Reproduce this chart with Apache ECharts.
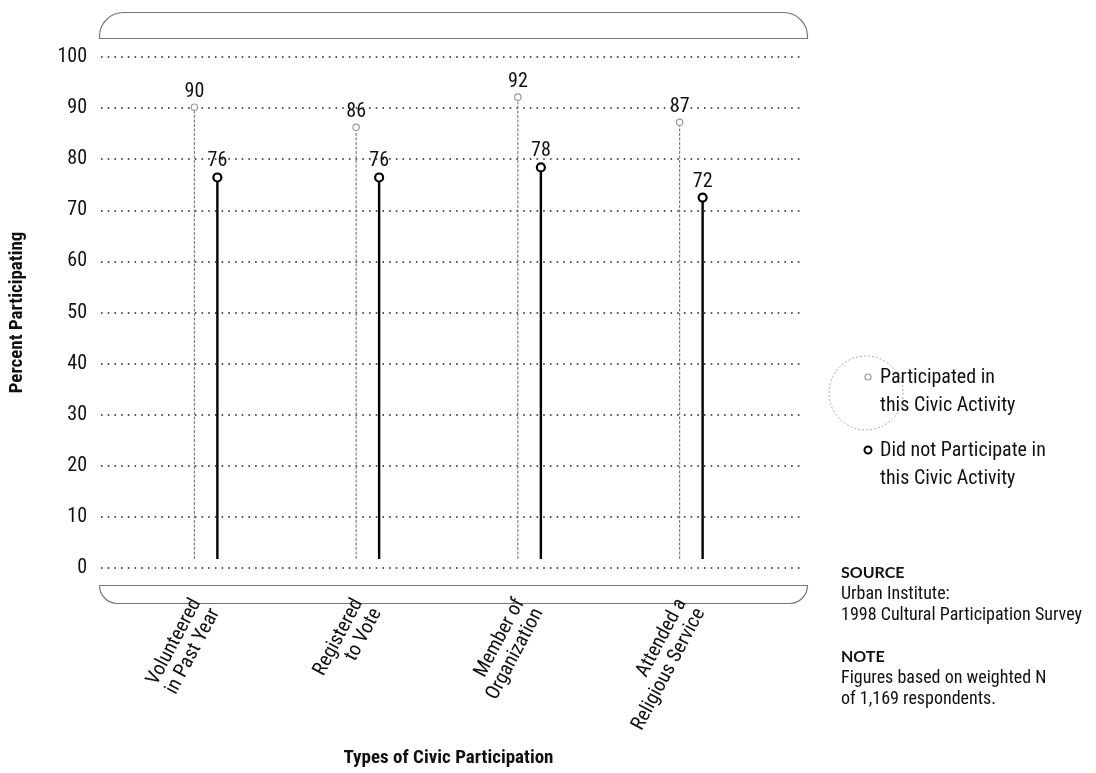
<!DOCTYPE html>
<html>
<head>
<meta charset="utf-8">
<script src="https://cdn.jsdelivr.net/npm/echarts@6/dist/echarts.min.js"></script>
<style>
html,body{margin:0;padding:0;background:#fff;}
#chart{width:1096px;height:773px;}
</style>
</head>
<body>
<div id="chart"></div>
<script>
// ---- data ----
const categories = ['Volunteered\nin Past Year', 'Registered\nto Vote', 'Member of\nOrganization', 'Attended a\nReligious Service'];
const participated = [90, 86, 92, 87];
const didNotParticipate = [76, 76, 78, 72];
const yTicks = [0, 10, 20, 30, 40, 50, 60, 70, 80, 90, 100];
const seriesNames = ['Participated in\nthis Civic Activity', 'Did not Participate in\nthis Civic Activity'];

const NARROW = "'Liberation Sans Narrow','Roboto Condensed','DejaVu Sans Condensed','Liberation Sans',sans-serif";

const chart = echarts.init(document.getElementById('chart'), null, {renderer: 'canvas'});

function makeRender(offset, opts) {
  return function (params, api) {
    const idx = api.value(0);
    const v = api.value(1);
    const top = api.coord([idx, v]);
    const base = api.coord([idx, 0]);
    const cx = top[0] + offset;
    return {
      type: 'group',
      children: [
        {type: 'line', shape: {x1: cx, y1: base[1], x2: cx, y2: top[1] + opts.r},
         style: {stroke: opts.stemColor, lineWidth: opts.stemWidth, lineDash: opts.dash}},
        {type: 'circle', shape: {cx: cx, cy: top[1], r: opts.r},
         style: {fill: '#fff', stroke: opts.dotColor, lineWidth: opts.dotWidth}},
        {type: 'text', style: {text: String(v), x: cx, y: top[1] - opts.r - 2,
          textAlign: 'center', textVerticalAlign: 'bottom',
          font: '20px ' + NARROW, fill: '#111'}}
      ]
    };
  };
}

const option = {
  backgroundColor: '#fff',
  animation: false,
  grid: [
    {left: 97, width: 706, top: 57, height: 511},
    {left: 125, width: 647, top: 57, height: 511}
  ],
  xAxis: [
    {gridIndex: 0, type: 'category', data: categories, show: false},
    {gridIndex: 1, type: 'category', data: categories,
     axisLine: {show: false}, axisTick: {show: false},
     axisLabel: {rotate: 62, margin: 46, fontFamily: NARROW, fontSize: 20, color: '#111', lineHeight: 21},
     name: 'Types of Civic Participation', nameLocation: 'middle', nameGap: 190,
     nameTextStyle: {fontFamily: NARROW, fontWeight: 'bold', fontSize: 19, color: '#111'}}
  ],
  yAxis: [
    {gridIndex: 0, type: 'value', min: yTicks[0], max: yTicks[yTicks.length - 1], interval: 10,
     axisLine: {show: false}, axisTick: {show: false},
     axisLabel: {margin: 14, fontFamily: NARROW, fontSize: 20, color: '#111'},
     splitLine: {show: true, lineStyle: {color: '#222', width: 1.6, type: [1.6, 5.1]}},
     name: 'Percent Participating', nameLocation: 'middle', nameRotate: 90, nameGap: 74,
     nameTextStyle: {fontFamily: NARROW, fontWeight: 'bold', fontSize: 19, color: '#111'}},
    {gridIndex: 1, type: 'value', min: yTicks[0], max: yTicks[yTicks.length - 1], interval: 10, show: false}
  ],
  series: [
    {name: seriesNames[0], type: 'custom', xAxisIndex: 1, yAxisIndex: 1,
     data: participated.map((v, i) => [i, v]),
     renderItem: makeRender(-11.5, {r: 3.2, stemColor: '#777', stemWidth: 1.1, dash: [3, 1.5], dotColor: '#999', dotWidth: 1.2}),
     z: 3},
    {name: seriesNames[1], type: 'custom', xAxisIndex: 1, yAxisIndex: 1,
     data: didNotParticipate.map((v, i) => [i, v]),
     renderItem: makeRender(11.5, {r: 4, stemColor: '#000', stemWidth: 2.4, dash: null, dotColor: '#000', dotWidth: 2.2}),
     z: 4}
  ],
  graphic: [
    // top bracket
    {type: 'rect', left: 97, top: 10, shape: {width: 708, height: 26, r: [24, 24, 0, 0]},
     style: {fill: 'none', stroke: '#777', lineWidth: 1.2}, silent: true},
    // bottom bracket
    {type: 'rect', left: 97, top: 583, shape: {width: 708, height: 18, r: [0, 0, 18, 18]},
     style: {fill: 'none', stroke: '#777', lineWidth: 1.2}, silent: true},
    // legend
    {type: 'circle', shape: {cx: 866, cy: 393, r: 37}, style: {fill: 'none', stroke: '#aaa', lineWidth: 1, lineDash: [2, 2]}, silent: true},
    {type: 'circle', shape: {cx: 868, cy: 377, r: 3}, style: {fill: '#fff', stroke: '#999', lineWidth: 1.2}, silent: true},
    {type: 'text', x: 880, y: 364, style: {text: seriesNames[0], font: '20px ' + NARROW, fill: '#111', lineHeight: 28}, silent: true},
    {type: 'circle', shape: {cx: 868, cy: 450, r: 3.5}, style: {fill: '#fff', stroke: '#000', lineWidth: 2}, silent: true},
    {type: 'text', x: 880, y: 437, style: {text: seriesNames[1], font: '20px ' + NARROW, fill: '#111', lineHeight: 28}, silent: true},
    // source & note
    {type: 'text', x: 841, y: 565, style: {text: 'SOURCE', font: 'bold 16px Lato, sans-serif', fill: '#111'}},
    {type: 'text', x: 841, y: 584, style: {text: 'Urban Institute:\n1998 Cultural Participation Survey', font: '18px ' + NARROW, fill: '#111', lineHeight: 21}},
    {type: 'text', x: 841, y: 649, style: {text: 'NOTE', font: 'bold 16px Lato, sans-serif', fill: '#111'}},
    {type: 'text', x: 841, y: 668, style: {text: 'Figures based on weighted N\nof 1,169 respondents.', font: '18px ' + NARROW, fill: '#111', lineHeight: 21}}
  ]
};
chart.setOption(option);
</script>
</body>
</html>
